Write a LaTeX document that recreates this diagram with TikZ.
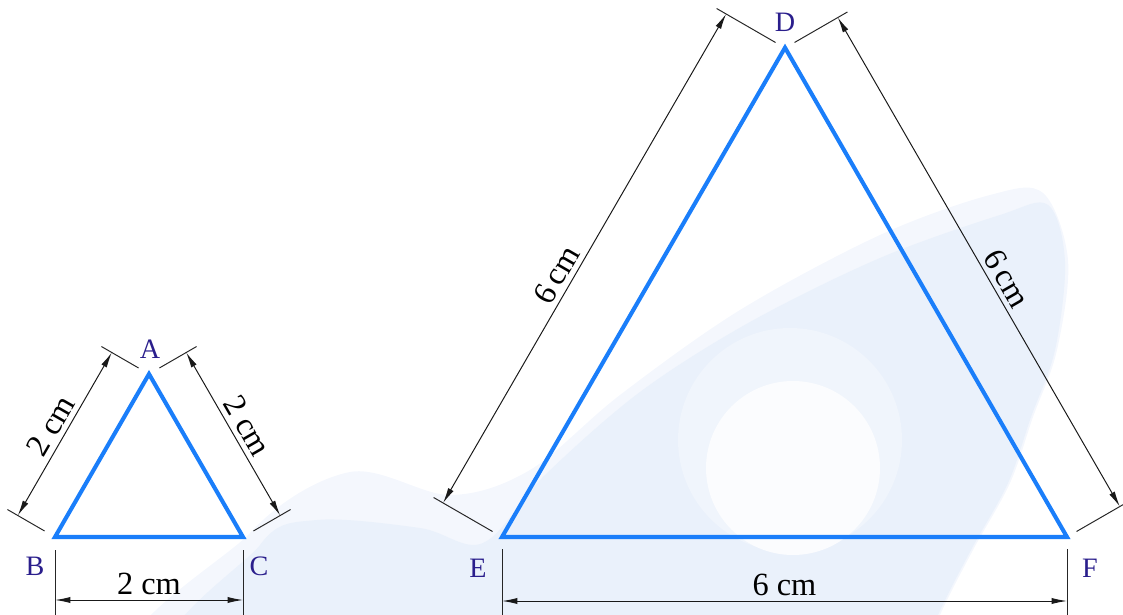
\documentclass[tikz,border=0pt]{standalone}
\usepackage{fontspec}
\setmainfont{Liberation Serif}
\newfontfamily\dimserif{Liberation Serif}
\usetikzlibrary{arrows.meta}
\definecolor{triblue}{RGB}{26,126,250}
\definecolor{lblcol}{RGB}{42,30,140}
\definecolor{wmA}{RGB}{244,247,253}
\definecolor{wmB}{RGB}{234,241,251}
\definecolor{wmC}{RGB}{240,245,252}
\definecolor{wmD}{RGB}{251,252,254}
\tikzset{
  tri/.style={draw=triblue, line width=2.9pt, line join=miter},
  extline/.style={draw=black!85, line width=0.7pt},
  dimline/.style={draw=black!90, line width=0.7pt, {Latex[length=11pt,width=4.4pt]}-{Latex[length=11pt,width=4.4pt]}},
  dimtext/.style={font=\dimserif\fontsize{23}{25}\selectfont, inner sep=3.5pt},
  vlabel/.style={font=\dimserif\fontsize{20}{22}\selectfont, text=lblcol, inner sep=0pt}
}
\begin{document}
\begin{tikzpicture}[x=0.025cm, y=-0.025cm]
\useasboundingbox (0,0) rectangle (1123,615);
% watermark
\begin{scope}
\clip (0,0) rectangle (1123,615);
\fill[wmA] plot[smooth cycle, tension=0.55] coordinates {(160,680) (250,533) (350,472) (450,495) (530,470) (620,395) (740,310) (880,235) (990,195) (1043,193) (1068,260) (1057,350) (1033,417) (1010,483) (973,550) (940,615) (915,680)};
\fill[wmB] plot[smooth cycle, tension=0.55] coordinates {(200,680) (260,545) (317,520) (420,528) (483,543) (545,475) (640,392) (750,322) (880,258) (1000,215) (1048,205) (1065,262) (1055,350) (1031,417) (1008,483) (971,550) (938,615) (913,680)};
\fill[wmC] (790,440) circle (112);
\fill[wmD] (793,468) circle (87);
\end{scope}
% vertices
\coordinate (A) at (149,374);
\coordinate (B) at (55,537);
\coordinate (C) at (243,537);
\coordinate (D) at (785,47.7);
\coordinate (E) at (502,537);
\coordinate (F) at (1067,537);
% triangles
\draw[tri] (A) -- (B) -- (C) -- cycle;
\draw[tri] (D) -- (E) -- (F) -- cycle;
% vertex labels
\node[vlabel] (lA) at (150,349) {A};
\node[vlabel] (lB) at (35,566) {B};
\node[vlabel] (lC) at (259,566) {C};
\node[vlabel] (lD) at (785,22) {D};
\node[vlabel] (lE) at (478,568) {E};
\node[vlabel] (lF) at (1090,568) {F};
% small triangle dimension AB
\coordinate (ab1) at (44.6,531); \coordinate (ab2) at (7.4,509.5);
\coordinate (ab3) at (138.6,368); \coordinate (ab4) at (101.4,346.5);
\coordinate (abB) at (17.8,515.5); \coordinate (abA) at (111.8,352.5);
\draw[extline] (ab1) -- (ab2);
\draw[extline] (ab3) -- (ab4);
\draw[dimline] (abB) -- node[dimtext, sloped, above] {2 cm} (abA);
% AC
\coordinate (ac1) at (253.4,531); \coordinate (ac2) at (290.6,509.5);
\coordinate (ac3) at (159.4,368); \coordinate (ac4) at (196.6,346.5);
\coordinate (acC) at (280.2,515.5); \coordinate (acA) at (186.2,352.5);
\draw[extline] (ac1) -- (ac2);
\draw[extline] (ac3) -- (ac4);
\draw[dimline] (acA) -- node[dimtext, sloped, above] {2 cm} (acC);
% BC
\coordinate (bc1) at (55,550); \coordinate (bc2) at (55,615);
\coordinate (bc3) at (243,550); \coordinate (bc4) at (243,615);
\coordinate (bcB) at (55,600); \coordinate (bcC) at (243,600);
\draw[extline] (bc1) -- (bc2);
\draw[extline] (bc3) -- (bc4);
\draw[dimline] (bcB) -- node[dimtext, above] {2 cm} (bcC);
% large triangle DE
\coordinate (de1) at (492.5,531.5); \coordinate (de2) at (433.6,497.5);
\coordinate (de3) at (775.5,42.5); \coordinate (de4) at (716.6,8.5);
\coordinate (deE) at (443.1,503); \coordinate (deD) at (726.1,14);
\draw[extline] (de1) -- (de2);
\draw[extline] (de3) -- (de4);
\draw[dimline] (deE) -- node[dimtext, sloped, above, pos=0.45] {6\,cm} (deD);
% DF
\coordinate (df1) at (1076.5,531.5); \coordinate (df2) at (1129.4,501);
\coordinate (df3) at (794.5,42.5); \coordinate (df4) at (847.4,12);
\coordinate (dfF) at (1119.8,506.5); \coordinate (dfD) at (837.8,17.5);
\draw[extline] (df1) -- (df2);
\draw[extline] (df3) -- (df4);
\draw[dimline] (dfD) -- node[dimtext, sloped, above, pos=0.55] {6\,cm} (dfF);
% EF
\coordinate (ef1) at (502,549); \coordinate (ef2) at (502,615);
\coordinate (ef3) at (1067,549); \coordinate (ef4) at (1067,615);
\coordinate (efE) at (502,601); \coordinate (efF) at (1067,601);
\draw[extline] (ef1) -- (ef2);
\draw[extline] (ef3) -- (ef4);
\draw[dimline] (efE) -- node[dimtext, above] {6 cm} (efF);
\end{tikzpicture}
\end{document}
